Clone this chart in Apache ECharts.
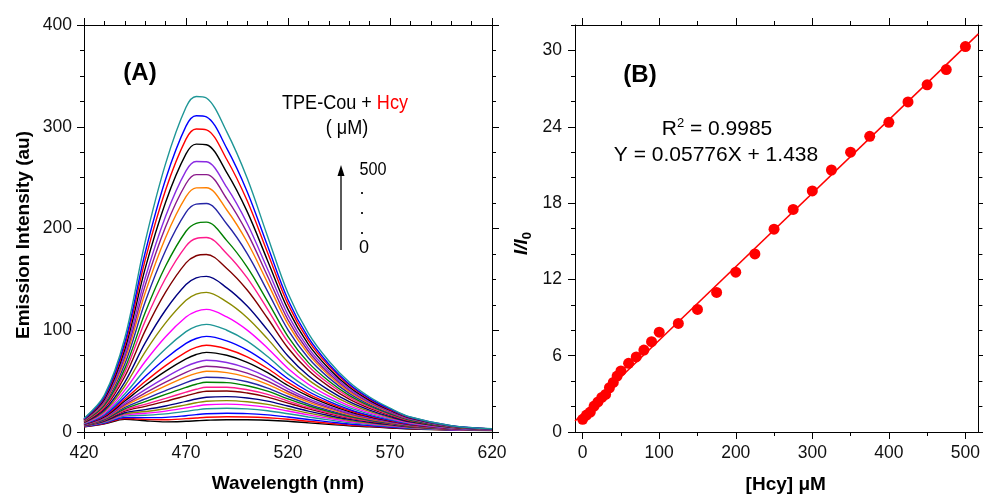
<!DOCTYPE html>
<html>
<head>
<meta charset="utf-8">
<script src="https://cdn.jsdelivr.net/npm/echarts@6/dist/echarts.min.js"></script>
<style>
html,body{margin:0;padding:0;background:#fff;}
#chart{width:983px;height:499px;}
</style>
</head>
<body>
<div id="chart"></div>
<script>
// ---------- Panel A: emission spectra ----------
const wavelengths = [420,430,440,450,460,470,475,480,490,500,510,520,530,540,550,560,570,580,600,620];
// one spectrum per Hcy concentration (0 ... 500 uM), bottom to top
const spec01 = [5,8,12.5,11,10,10.5,11,11.5,12,12,11.5,10.5,9,7.5,6,5,4,3,2,1.5];
const spec02 = [5.2,8.4,13.3,12.4,12.0,13.1,13.8,14.5,15.0,14.8,14.0,12.5,10.5,8.6,6.8,5.6,4.4,3.3,2.1,1.6];
const spec03 = [5.3,8.8,14.3,14.1,14.4,16.0,17.1,17.9,18.4,18.1,16.8,14.7,12.3,10.0,7.8,6.3,4.9,3.6,2.2,1.6];
const spec04 = [5.6,9.4,15.7,16.5,17.8,20.3,21.7,22.8,23.4,22.7,20.9,18.0,14.8,11.9,9.2,7.3,5.6,4.0,2.4,1.7];
const spec05 = [5.8,9.9,16.8,18.4,20.5,23.7,25.4,26.8,27.4,26.4,24.2,20.6,16.8,13.4,10.3,8.1,6.2,4.4,2.5,1.7];
const spec06 = [6.0,10.3,17.8,20.1,22.9,26.7,28.7,30.2,30.8,29.7,27.1,22.9,18.5,14.7,11.3,8.8,6.7,4.7,2.7,1.8];
const spec07 = [6.2,10.8,18.9,22.0,25.6,30.1,32.4,34.2,34.8,33.4,30.4,25.5,20.5,16.2,12.4,9.6,7.2,5.1,2.8,1.9];
const spec08 = [6.4,11.4,20.5,25.2,30.1,35.5,38.2,40.1,40.3,38.3,34.3,28.4,22.7,17.8,13.6,10.4,7.8,5.4,2.9,1.9];
const spec09 = [6.5,11.8,21.5,27.2,33.1,39.2,42.0,44.0,44.0,41.5,37.0,30.4,24.1,18.9,14.3,10.9,8.1,5.7,3.0,1.9];
const spec10 = [6.7,12.2,22.8,29.9,36.9,43.8,46.9,48.9,48.5,45.4,40.1,32.6,25.8,20.1,15.2,11.5,8.5,5.9,3.1,2.0];
const spec11 = [6.8,12.7,24.1,32.5,40.7,48.5,51.8,53.8,53.0,49.4,43.2,34.9,27.4,21.3,16.1,12.1,8.9,6.2,3.2,2.0];
const spec12 = [7.0,13.3,25.6,35.7,45.3,54.1,57.6,59.7,58.4,54.0,46.9,37.6,29.3,22.7,17.0,12.8,9.4,6.4,3.3,2.1];
const spec13 = [7.2,13.8,26.9,38.4,49.1,58.7,62.5,64.6,62.9,57.9,50.0,39.8,31.0,23.9,17.9,13.4,9.8,6.7,3.4,2.1];
const spec14 = [7.3,14.3,28.4,41.6,53.7,64.4,68.3,70.5,68.3,62.5,53.7,42.5,32.8,25.2,18.8,14.1,10.2,7.0,3.5,2.1];
const spec15 = [7.6,15.0,30.4,45.9,59.9,71.9,76.2,78.3,75.4,68.5,58.3,45.7,35.2,26.9,20.0,14.9,10.8,7.3,3.6,2.2];
const spec16 = [7.8,15.7,32.2,49.6,65.3,78.5,83.1,85.2,81.6,73.8,62.4,48.7,37.3,28.4,21.1,15.6,11.3,7.6,3.7,2.2];
const spec17 = [8.0,16.5,34.4,54.5,72.3,87.1,91.9,94.0,89.6,80.5,67.6,52.3,39.8,30.2,22.3,16.4,11.8,8.0,3.9,2.3];
const spec18 = [8.3,17.5,37.4,61.1,81.8,98.6,103.8,105.8,100.0,89.3,74.2,56.9,43.0,32.5,23.9,17.5,12.5,8.4,4.0,2.3];
const spec19 = [8.7,18.8,41.1,69.3,93.7,113.0,118.6,120.5,113.1,100.1,82.4,62.5,46.9,35.2,25.7,18.8,13.4,8.9,4.2,2.4];
const spec20 = [9.1,20.2,45.2,78.7,107.2,129.4,135.5,137.2,127.8,112.3,91.5,68.7,51.2,38.2,27.8,20.2,14.3,9.5,4.4,2.5];
const spec21 = [9.4,21.6,49.1,87.5,119.9,144.9,151.4,152.9,141.7,123.8,100.1,74.7,55.2,41.1,29.8,21.5,15.1,10.0,4.6,2.6];
const spec22 = [9.9,23.4,54.5,99.6,137.4,166.2,173.2,174.5,160.7,139.5,111.8,82.6,60.6,44.8,32.3,23.2,16.3,10.7,4.8,2.7];
const spec23 = [10.3,24.8,58.6,109.1,151.1,182.7,190.2,191.1,175.3,151.5,120.6,88.5,64.7,47.6,34.2,24.5,17.1,11.2,5.0,2.7];
const spec24 = [10.6,26.1,62.3,117.4,163.1,197.3,205.1,206.3,188.1,162.1,128.4,93.8,68.2,50.1,35.9,25.6,17.8,11.6,5.1,2.8];
const spec25 = [11.1,27.6,66.9,128.0,178.4,215.8,224.0,224.5,204.4,175.4,138.2,100.4,72.7,53.2,38.0,27.0,18.7,12.1,5.3,2.8];
const spec26 = [11.4,29.0,70.7,136.8,191.2,231.3,239.9,240.1,218.2,186.7,146.6,106.0,76.5,55.8,39.7,28.2,19.5,12.6,5.4,2.9];
const spec27 = [11.7,30.0,73.9,144.1,201.7,244.0,252.9,252.9,229.2,195.7,153.1,110.2,79.4,57.7,41.0,29.0,20.0,12.9,5.5,2.9];
const spec28 = [12.0,31.1,77.0,151.3,212.1,256.7,265.9,265.6,240.4,204.9,159.9,114.9,82.5,59.9,42.5,30.0,20.7,13.3,5.7,3.0];
const spec29 = [12.3,32.4,81.1,160.8,225.9,273.3,282.9,282.3,254.9,216.6,168.4,120.5,86.2,62.5,44.2,31.1,21.4,13.7,5.8,3.0];
const spec30 = [12.6,33.7,84.7,169.2,237.9,287.9,297.8,297.0,267.8,227.2,176.2,125.7,89.8,65.0,45.9,32.3,22.1,14.2,6.0,3.1];
const spec31 = [12.9,34.7,87.9,176.4,248.4,300.6,310.8,309.7,278.8,236.2,182.7,130.0,92.7,66.9,47.2,33.1,22.7,14.5,6.1,3.1];
const spec32 = [13.3,36.2,92.4,187.1,263.8,319.2,329.8,328.3,294.9,249.3,192.2,136.3,96.9,69.8,49.1,34.4,23.5,14.7,6.2,3.2];
const spectra = [spec01,spec02,spec03,spec04,spec05,spec06,spec07,spec08,spec09,spec10,spec11,spec12,spec13,spec14,spec15,spec16,
                 spec17,spec18,spec19,spec20,spec21,spec22,spec23,spec24,spec25,spec26,spec27,spec28,spec29,spec30,spec31,spec32];
const curveColors = ['#000000','#FF0000','#0000FF','#1E9696','#FF00FF','#8B8B00','#000080','#800000',
                     '#FF1A8C','#008000','#2626A6','#FF8000','#8B1A8B','#8A2BE2'];

// ---------- Panel B: I/I0 vs [Hcy] ----------
const conc  = [0,5,10,15,20,25,30,35,40,45,50,60,70,80,90,100,125,150,175,200,225,250,275,300,325,350,375,400,425,450,475,500];
const ratio = [1.0,1.33,1.57,2.04,2.36,2.72,2.95,3.48,3.9,4.4,4.8,5.4,5.9,6.44,7.1,7.85,8.54,9.64,10.97,12.57,14.0,15.95,17.5,18.95,20.6,22.0,23.25,24.35,25.95,27.3,28.5,30.3];
const fitX = [-10, 517];
const fitY = [0.86, 31.30];

// tick values
const aXMajor = [420,470,520,570,620];
const aXMinor = [430,440,450,460,480,490,500,510,530,540,550,560,580,590,600,610];
const aYMajor = [0,100,200,300,400];
const aYMinor = [25,50,75,125,150,175,225,250,275,325,350,375];
const bXMajor = [0,100,200,300,400,500];
const bXMinor = [50,150,250,350,450];
const bYMajor = [0,6,12,18,24,30];
const bYMinor = [2,4,8,10,14,16,20,22,26,28,32];

const FONT = '"Liberation Sans", Arial, Helvetica, sans-serif';
const black = '#000';

function axesFor(dim, grid, min, max, majors, minors, labelMargin, nameOpts) {
  const pos = dim === 'x' ? ['bottom','top'] : ['left','right'];
  const base = {type:'value', gridIndex:grid, min:min, max:max, scale:false, splitLine:{show:false}, minorTick:{show:false}};
  const tick = (vals, len) => ({show:true, inside:false, length:len, customValues:vals, lineStyle:{color:black, width:1}});
  const mainAxis = Object.assign({}, base, {
    position: pos[0],
    axisLine: {show:true, onZero:false, lineStyle:{color:black, width:1}},
    axisTick: tick(majors, 7),
    axisLabel: {show:true, customValues:majors, margin:labelMargin, fontSize:17.5, fontFamily:FONT, color:'#111'}
  }, nameOpts || {});
  const mirror = Object.assign({}, base, {
    position: pos[1],
    axisLine: {show:true, onZero:false, lineStyle:{color:black, width:1}},
    axisTick: tick(majors, 7),
    axisLabel: {show:false}
  });
  const minorA = Object.assign({}, base, {
    position: pos[0],
    axisLine: {show:false, onZero:false},
    axisTick: tick(minors, 4),
    axisLabel: {show:false}
  });
  const minorB = Object.assign({}, base, {
    position: pos[1],
    axisLine: {show:false, onZero:false},
    axisTick: tick(minors, 4),
    axisLabel: {show:false}
  });
  return [mainAxis, mirror, minorA, minorB];
}

const titleStyle = {fontSize:19, fontWeight:'bold', fontFamily:FONT, color:black};

const xAxes = [].concat(
  axesFor('x', 0, 420, 620, aXMajor, aXMinor, 12,
    {name:'Wavelength (nm)', nameLocation:'middle', nameGap:42, nameTextStyle:titleStyle}),
  axesFor('x', 1, -10, 517, bXMajor, bXMinor, 12,
    {name:'[Hcy] \u03BCM', nameLocation:'middle', nameGap:43, nameTextStyle:Object.assign({padding:[0,0,0,18]}, titleStyle)})
);
const yAxes = [].concat(
  axesFor('y', 0, 0, 400, aYMajor, aYMinor, 12,
    {name:'Emission Intensity (au)', nameLocation:'middle', nameGap:51, nameTextStyle:Object.assign({padding:[0,13,0,0]}, titleStyle)}),
  axesFor('y', 1, 0, 32, bYMajor, bYMinor, 13,
    {name:'{a|I/I}{b|0}', nameLocation:'middle', nameGap:41,
     nameTextStyle:{padding:[0,30,0,0], rich:{
       a:{fontSize:19, fontWeight:'bold', fontStyle:'italic', fontFamily:FONT, color:black, lineHeight:24},
       b:{fontSize:13, fontWeight:'bold', fontFamily:FONT, color:black, lineHeight:10, verticalAlign:'bottom'}
     }}})
);

const series = [];
spectra.forEach((s, i) => {
  series.push({
    type:'line', xAxisIndex:0, yAxisIndex:0, silent:true,
    data: wavelengths.map((w, j) => [w, s[j]]),
    showSymbol:false, smooth:0.35,
    lineStyle:{width:1.4, color:curveColors[i % curveColors.length]},
    itemStyle:{color:curveColors[i % curveColors.length]},
    z: 2
  });
});
series.push({
  type:'line', xAxisIndex:4, yAxisIndex:4, silent:true,
  data: fitX.map((x, i) => [x, fitY[i]]),
  showSymbol:false, lineStyle:{color:'#FF0000', width:1.5}, itemStyle:{color:'#FF0000'}, z:2
});
series.push({
  type:'scatter', xAxisIndex:4, yAxisIndex:4, silent:true,
  data: conc.map((c, i) => [c, ratio[i]]),
  symbol:'circle', symbolSize:11, itemStyle:{color:'#FF0000', opacity:1}, z:3
});

function txt(x, y, text, font, extra) {
  return Object.assign({type:'text', x:x, y:y, silent:true, z:10,
    style:{text:text, font:font, fill:black, align:'center', verticalAlign:'middle', textAlign:'center', textVerticalAlign:'middle'}}, extra || {});
}

const graphics = [
  txt(140, 73, '(A)', 'bold 24px ' + FONT),
  txt(640, 75, '(B)', 'bold 24px ' + FONT),
  {type:'text', x:345, y:103, scaleX:0.86, silent:true, z:10,
    style:{text:'{a|TPE-Cou + }{b|Hcy}', align:'center', verticalAlign:'middle', textAlign:'center', textVerticalAlign:'middle',
      rich:{a:{fontSize:21, fontFamily:FONT, fill:black, color:black}, b:{fontSize:21, fontFamily:FONT, fill:'#FF0000', color:'#FF0000'}}}},
  Object.assign(txt(347, 128, '( \u03BCM)', '21px ' + FONT), {scaleX:0.86}),
  {type:'line', silent:true, z:10, shape:{x1:341, y1:250, x2:341, y2:174}, style:{stroke:black, lineWidth:1.3}},
  {type:'polygon', silent:true, z:10, shape:{points:[[341,165],[337.5,176],[344.5,176]]}, style:{fill:black}},
  Object.assign(txt(373, 170, '500', '18px ' + FONT), {scaleX:0.9}),
  txt(362, 189, '.', '18px ' + FONT),
  txt(362, 209, '.', '18px ' + FONT),
  txt(362, 229, '.', '18px ' + FONT),
  txt(364, 248, '0', '18px ' + FONT),
  {type:'text', x:717, y:129, silent:true, z:10,
    style:{text:'{a|R}{s|2}{a| = 0.9985}', align:'center', verticalAlign:'middle', textAlign:'center', textVerticalAlign:'middle',
      rich:{a:{fontSize:21, fontFamily:FONT, fill:black, color:black, lineHeight:24},
            s:{fontSize:13, fontFamily:FONT, fill:black, color:black, lineHeight:10, verticalAlign:'top'}}}},
  txt(716, 155, 'Y = 0.05776X + 1.438', '21px ' + FONT)
];

const chart = echarts.init(document.getElementById('chart'), null, {renderer:'canvas'});
chart.setOption({
  animation:false,
  backgroundColor:'#fff',
  grid:[
    {left:84, top:25, width:408, height:407, containLabel:false},
    {left:575, top:25, width:406, height:407, containLabel:false}
  ],
  xAxis:xAxes,
  yAxis:yAxes,
  series:series,
  graphic:graphics
});
</script>
</body>
</html>
